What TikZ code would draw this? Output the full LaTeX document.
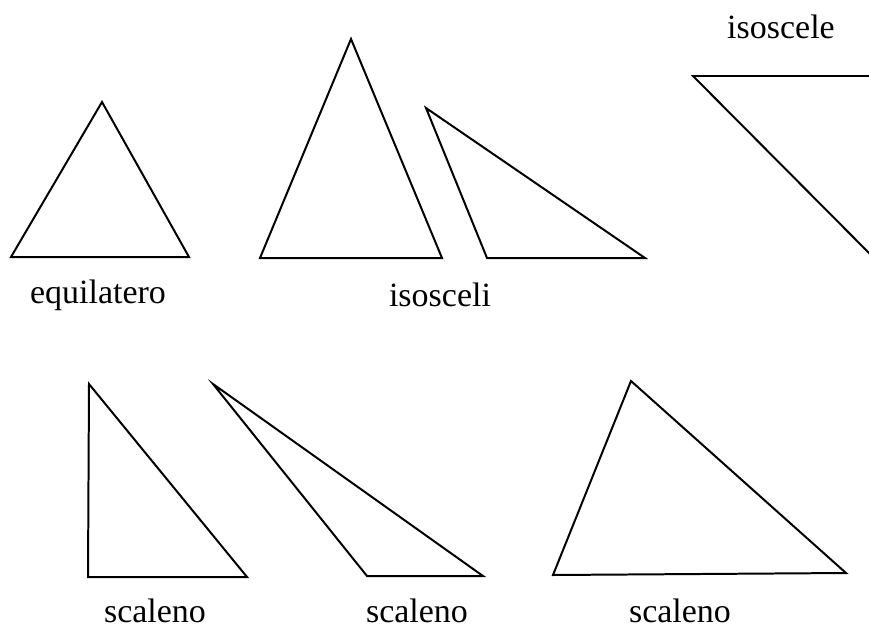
\documentclass[tikz,border=0pt]{standalone}
\usepackage{fontspec}
\setmainfont{Liberation Serif}
\usepackage{tikz}

\begin{document}
\begin{tikzpicture}[x=0.03cm,y=-0.03cm,tri/.style={draw,line width=1.7pt,line join=miter},lbl/.style={font=\fontsize{29}{32}\selectfont,inner sep=0pt}]
  \useasboundingbox (0,0) rectangle (869,637);
  \draw[tri] (11,257) -- (189,257) -- (102,102) -- cycle;
  \draw[tri] (260,258) -- (442,258) -- (351,39) -- cycle;
  \draw[tri] (426,108) -- (487,258) -- (645,258) -- cycle;
  \draw[tri] (693,76) -- (870,76) -- (870,254) -- cycle;
  \draw[tri] (89,384) -- (88,577) -- (247,577) -- cycle;
  \draw[tri] (213,384) -- (367,576) -- (483,576) -- cycle;
  \draw[tri] (631,381) -- (553,575) -- (846,573) -- cycle;
  \node[lbl] (equi) at (98,295) {equilatero};
  \node[lbl] (isos) at (440,295) {isosceli};
  \node[lbl] (isor) at (781,27) {isoscele};
  \node[lbl] (sca1) at (155,611) {scaleno};
  \node[lbl] (sca2) at (417,611) {scaleno};
  \node[lbl] (sca3) at (680,611) {scaleno};
\end{tikzpicture}
\end{document}
